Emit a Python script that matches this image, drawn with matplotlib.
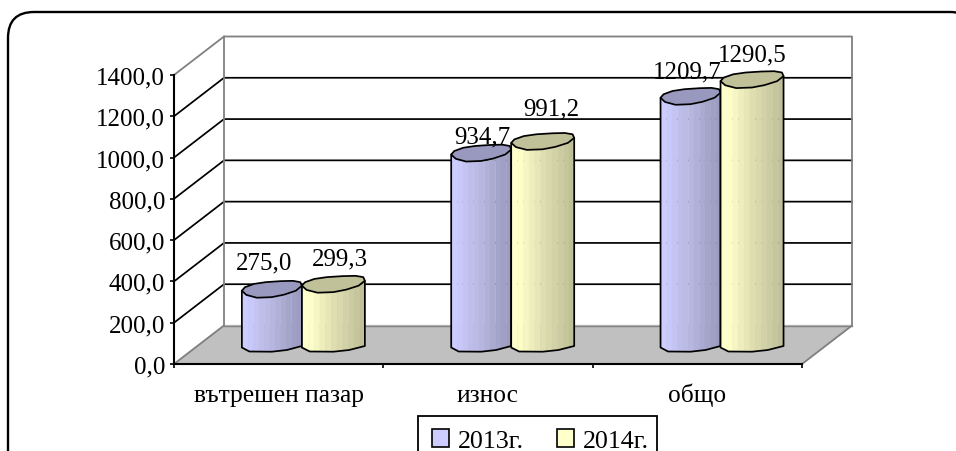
import numpy as np
import matplotlib
matplotlib.use("Agg")
import matplotlib.pyplot as plt
from matplotlib.patches import FancyBboxPatch, Patch, Polygon, Rectangle
from matplotlib.ticker import FuncFormatter
from matplotlib.transforms import IdentityTransform

categories = ["вътрешен пазар", "износ", "общо"]
series_names = ["2013г.", "2014г."]
values_2013 = [275.0, 934.7, 1209.7]
values_2014 = [299.3, 991.2, 1290.5]
value_labels_2013 = ["275,0", "934,7", "1209,7"]
value_labels_2014 = ["299,3", "991,2", "1290,5"]
y_ticks = [0, 200, 400, 600, 800, 1000, 1200, 1400]

W, H = 956, 452
plt.rcParams["font.family"] = ["Liberation Serif", "DejaVu Serif"]
FS = 18.0
fig = plt.figure(figsize=(W / 100, H / 100), dpi=100, facecolor="white")

# outer rounded frame (runs past the right and bottom image edges)
frame = FancyBboxPatch((8, H - 500), 968, 487, boxstyle="round,pad=0,rounding_size=26",
    transform=IdentityTransform(), fc="white", ec="black", lw=1.7, zorder=-5)
fig.add_artist(frame)

ax = fig.add_axes([174 / W, 1 - 365 / H, 628 / W, 289 / H])
ax.patch.set_alpha(0)
ax.set_xlim(0, 3)
ax.set_ylim(0, 1400)
PX = 3 / 628          # x data units per pixel
PY = 1400 / 289       # y data units per pixel
DX, DY = 50 * PX, 38.5 * PY  # depth of the 3-D box

# back wall, floor, gridlines
ax.fill([DX, 3 + DX, 3 + DX, DX], [DY, DY, 1400 + DY, 1400 + DY], color="white", zorder=1, clip_on=False)
ax.fill([0, 3, 3 + DX, DX], [0, 0, DY, DY], color="#C0C0C0", zorder=1.1, clip_on=False)
for v in y_ticks[1:-1]:
    ax.plot([0, DX, 3 + DX], [v, v + DY, v + DY], color="black", lw=1.25, zorder=1.5, clip_on=False)
GREY = "#808080"
ax.plot([0, DX, DX], [0, DY, 1400 + DY], color=GREY, lw=1.3, zorder=1.6, clip_on=False)
ax.plot([3, 3 + DX, 3 + DX, DX, 0], [0, DY, 1400 + DY, 1400 + DY, 1400], color=GREY, lw=1.3, zorder=1.6, clip_on=False)
ax.plot([DX, 3 + DX], [DY, DY], color=GREY, lw=1.0, zorder=1.6, clip_on=False)

# irregular low-poly outlines of the cylinder: (fraction of half-width, pixels up)
cap_upper_u = [-1.0, -0.9, -0.6, -0.2, 0.3, 0.7, 0.95, 1.0]
cap_upper_v = [-1.0, 2.5, 5.8, 7.6, 8.6, 8.9, 7.6, 4.0]
cap_lower_u = [-1.0, -0.85, -0.5, 0.0, 0.4, 0.8, 1.0]
cap_lower_v = [-1.0, -5.2, -8.0, -7.4, -5.0, -1.0, 4.0]
foot_u = [-1.0, -0.75, 0.0, 0.5, 1.0]
foot_v = [-1.0, -5.0, -5.2, -3.5, 0.5]

ramp_blue = ["#CCCCFF", "#C8C8FA", "#C4C4F2", "#BEBEEA", "#BBBBE6", "#B6B6E0", "#B0B0D8", "#ABABD2", "#A5A5CC", "#A0A0C6", "#9C9CC0"]
ramp_yellow = ["#FFFFCC", "#FDFDC8", "#F6F6C4", "#EEEEBC", "#E6E6B6", "#DEDEB0", "#D8D8AC", "#D2D2A8", "#CCCCA2", "#C6C69C", "#C0C098"]
top_blue, top_yellow = "#9999C0", "#C0C099"
BASE = 17.5 * PY


def cylinder(xc, value, half_w_px, ramp, top_col, z):
    hw = half_w_px * PX
    us = np.linspace(-1, 1, len(ramp) + 1)
    for k, col in enumerate(ramp):
        u = np.linspace(us[k], us[k + 1] + (0.01 if k < len(ramp) - 1 else 0), 5)
        low = np.interp(u, foot_u, foot_v) * PY
        up = np.interp(u, cap_lower_u, cap_lower_v) * PY
        ax.fill_between(xc + u * hw, BASE + low, BASE + value + up, color=col, lw=0, zorder=z, clip_on=False)
    xs = np.r_[xc + np.array(foot_u) * hw, xc + hw, xc - hw]
    ys = np.r_[BASE + np.array(foot_v) * PY, BASE + value + cap_lower_v[-1] * PY, BASE + value + cap_lower_v[0] * PY]
    ax.add_patch(Polygon(np.c_[xs, ys], closed=True, fc="none", ec="black", lw=1.25, zorder=z + 0.01,
                         clip_on=False, joinstyle="round"))
    cx = np.r_[cap_upper_u, cap_lower_u[::-1][1:-1]]
    cy = np.r_[cap_upper_v, cap_lower_v[::-1][1:-1]]
    ax.add_patch(Polygon(np.c_[xc + cx * hw, BASE + value + cy * PY], closed=True, fc=top_col, ec="black",
                         lw=1.25, zorder=z + 0.02, clip_on=False, joinstyle="round"))


label_nudge_2013 = [(-8, 27), (1, 17), (-3, 25)]
label_nudge_2014 = [(7, 26), (9, 33), (0, 26)]
for i in range(len(categories)):
    xc = i + 0.5 + 24.2 * PX
    x1 = xc - 31 * PX
    x2 = xc + 30.5 * PX
    cylinder(x1, values_2013[i], 30, ramp_blue, top_blue, 3 + i)
    cylinder(x2, values_2014[i], 31.5, ramp_yellow, top_yellow, 3.5 + i)
    ax.annotate(value_labels_2013[i], (x1, BASE + values_2013[i]),
                xytext=label_nudge_2013[i], textcoords="offset pixels",
                ha="center", va="center", fontsize=FS, color="black", zorder=10, annotation_clip=False)
    ax.annotate(value_labels_2014[i], (x2, BASE + values_2014[i]),
                xytext=label_nudge_2014[i], textcoords="offset pixels",
                ha="center", va="center", fontsize=FS, color="black", zorder=10, annotation_clip=False)

# axes
for s in ("top", "right"):
    ax.spines[s].set_visible(False)
for s in ("left", "bottom"):
    ax.spines[s].set_linewidth(1.5)
    ax.spines[s].set_color("black")
    ax.spines[s].set_zorder(2)
ax.set_yticks(y_ticks)
ax.yaxis.set_major_formatter(FuncFormatter(lambda v, _: f"{v:.1f}".replace(".", ",")))
ax.tick_params(axis="y", direction="out", length=3, width=1.2, pad=3.5, labelsize=FS)
ax.set_xticks([0, 1, 2, 3])
ax.set_xticklabels([])
ax.set_xticks([0.5, 1.5, 2.5], minor=True)
ax.set_xticklabels(categories, minor=True, fontsize=18.4)
ax.tick_params(axis="x", which="major", direction="out", length=3, width=1.2)
ax.tick_params(axis="x", which="minor", length=0, pad=27)
for t in ax.get_xticklabels(minor=True):
    t.set_verticalalignment("baseline")

# legend box runs off the image bottom, as in the reference
fig.add_artist(Rectangle((418, H - 462), 239, 45, transform=IdentityTransform(),
                         fc="white", ec="black", lw=1.3, zorder=5))
handles = [Patch(fc="#CCCCFF", ec="black", lw=1.2), Patch(fc="#FFFFCC", ec="black", lw=1.2)]
leg = fig.legend(handles, series_names, loc="upper left", bbox_to_anchor=(418 / W, 1 - 418 / H),
                 bbox_transform=fig.transFigure, ncol=2, fontsize=18.7, frameon=False,
                 borderaxespad=0, borderpad=0.47,
                 handlelength=0.66, handleheight=0.66, handletextpad=0.33, columnspacing=1.27)
leg.set_zorder(6)
# side padding of the legend stays as in the reference while its top padding is tighter
leg.set_bbox_to_anchor((420 / W, 1 - 418 / H), transform=fig.transFigure)

fig.savefig("out.png", dpi=100, facecolor="white")
